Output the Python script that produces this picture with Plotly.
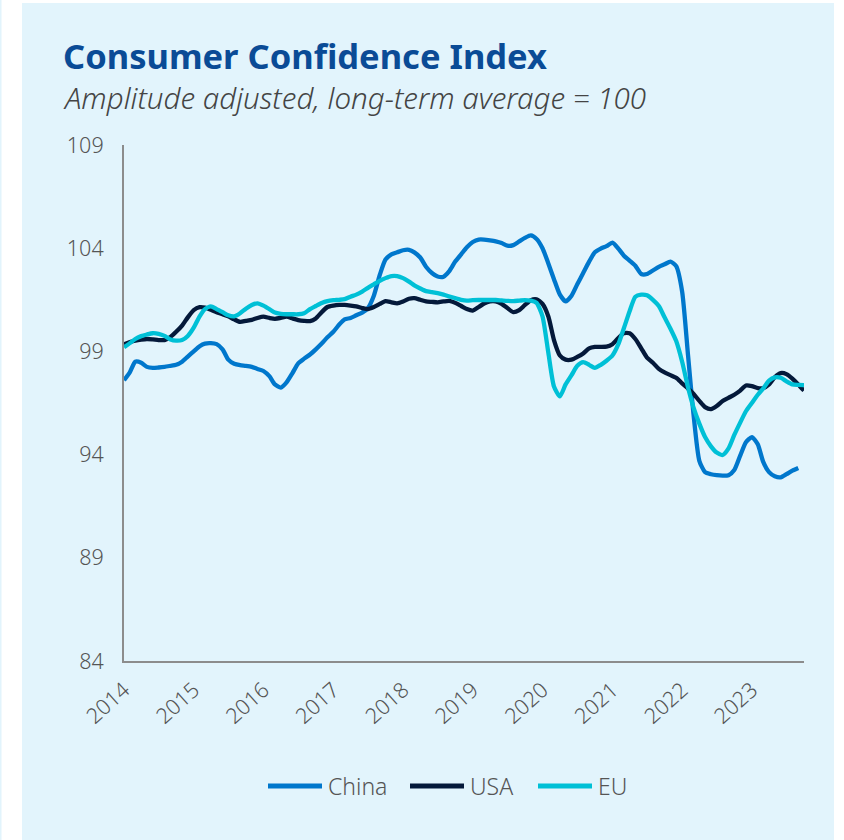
import pandas as pd
import plotly.graph_objects as go

# Monthly index values, amplitude adjusted (long-term average = 100)
months = pd.date_range("2014-01-01", "2023-10-01", freq="MS")

china = [
    97.6, 98.0, 98.5, 98.45, 98.25, 98.2, 98.22, 98.25, 98.3, 98.35, 98.5, 98.75,
    99.0, 99.25, 99.38, 99.4, 99.35, 99.1, 98.6, 98.4, 98.33, 98.3, 98.25, 98.15,
    98.05, 97.8, 97.4, 97.25, 97.5, 97.95, 98.42, 98.65, 98.85, 99.1, 99.38, 99.68,
    99.95, 100.3, 100.55, 100.62, 100.75, 100.88, 101.1, 101.7, 102.7, 103.45, 103.7, 103.8,
    103.9, 103.92, 103.8, 103.55, 103.1, 102.8, 102.63, 102.62, 102.9, 103.35, 103.7, 104.05,
    104.3, 104.42, 104.42, 104.38, 104.33, 104.25, 104.12, 104.15, 104.33, 104.5, 104.62, 104.45,
    104.0, 103.25, 102.5, 101.75, 101.42, 101.7, 102.25, 102.8, 103.35, 103.8, 103.98, 104.1,
    104.27, 103.98, 103.65, 103.4, 103.15, 102.75, 102.75, 102.92, 103.1, 103.22, 103.35, 103.13,
    101.9, 98.8, 96.0, 93.7, 93.15, 93.05, 93.0, 92.98, 93.0, 93.25, 93.95, 94.6,
    94.85, 94.5, 93.66, 93.15, 92.95, 92.9, 93.05, 93.22, 93.35,
]

usa = [
    99.35, 99.45, 99.52, 99.57, 99.6, 99.58, 99.55, 99.55, 99.7, 99.95, 100.25, 100.65,
    101.0, 101.14, 101.12, 101.02, 100.9, 100.8, 100.7, 100.55, 100.43, 100.48, 100.53, 100.62,
    100.68, 100.62, 100.58, 100.62, 100.68, 100.6, 100.52, 100.48, 100.47, 100.6, 100.9, 101.15,
    101.22, 101.25, 101.25, 101.22, 101.18, 101.1, 101.05, 101.15, 101.3, 101.43, 101.38, 101.33,
    101.42, 101.55, 101.58, 101.5, 101.42, 101.4, 101.38, 101.42, 101.45, 101.35, 101.2, 101.05,
    100.98, 101.15, 101.32, 101.42, 101.42, 101.3, 101.1, 100.9, 101.0, 101.25, 101.48, 101.52,
    101.3, 100.68, 99.55, 98.8, 98.6, 98.6, 98.73, 98.9, 99.15, 99.22, 99.22, 99.23,
    99.35, 99.65, 99.88, 99.88, 99.6, 99.15, 98.7, 98.45, 98.15, 97.98, 97.85, 97.72,
    97.45, 97.2, 96.95, 96.6, 96.3, 96.2, 96.35, 96.6, 96.75, 96.9, 97.1, 97.35,
    97.32, 97.22, 97.22, 97.4, 97.75, 97.95, 97.9, 97.68, 97.4, 97.1,
]

eu = [
    99.2, 99.4, 99.6, 99.74, 99.82, 99.88, 99.85, 99.75, 99.58, 99.52, 99.55, 99.75,
    100.15, 100.7, 101.05, 101.18, 101.05, 100.9, 100.75, 100.7, 100.85, 101.07, 101.25, 101.33,
    101.22, 101.05, 100.88, 100.82, 100.8, 100.8, 100.8, 100.85, 101.05, 101.2, 101.35, 101.44,
    101.48, 101.5, 101.53, 101.65, 101.75, 101.9, 102.08, 102.25, 102.42, 102.55, 102.65, 102.65,
    102.55, 102.38, 102.2, 102.05, 101.92, 101.87, 101.82, 101.75, 101.66, 101.58, 101.5, 101.46,
    101.48, 101.49, 101.49, 101.49, 101.49, 101.47, 101.45, 101.44, 101.46, 101.48, 101.46, 101.35,
    100.7, 98.9, 97.3, 96.82, 97.4, 97.85, 98.3, 98.48, 98.35, 98.2, 98.35, 98.55,
    98.8, 99.35, 100.1, 100.95, 101.65, 101.75, 101.72, 101.5, 101.2, 100.65, 100.1, 99.5,
    98.5, 97.25, 96.3, 95.5, 94.85, 94.4, 94.1, 93.98, 94.3, 94.95, 95.55, 96.1,
    96.5, 96.9, 97.2, 97.58, 97.74, 97.72, 97.55, 97.4, 97.38, 97.37,
]

series_names = ["China", "USA", "EU"]
series_colors = ["#0077CC", "#04193A", "#00C0D6"]

year_ticks = pd.date_range("2014-01-01", "2023-01-01", freq="YS")
year_labels = [str(d.year) for d in year_ticks]
y_ticks = [84, 89, 94, 99, 104, 109]

TEXT_FONT = "Noto Sans"
AXIS_GREY = "#8C8C8C"
LABEL_GREY = "#555555"
PANEL = "#E2F4FC"

fig = go.Figure()
for name, values, color in zip(series_names, [china, usa, eu], series_colors):
    fig.add_trace(go.Scatter(
        x=months[:len(values)], y=values, name=name, mode="lines",
        line=dict(color=color, width=4.3, shape="spline", smoothing=0.6),
        showlegend=False, hoverinfo="x+y+name",
    ))

# Light-blue card behind the whole chart
shapes = [
    dict(type="rect", xref="paper", yref="paper", layer="below",
         x0=(22 - 124) / 680, x1=(834 - 124) / 680,
         y0=(661 - 845) / 516, y1=(661 - 3) / 516,
         fillcolor=PANEL, line=dict(width=0)),
    dict(type="rect", xref="paper", yref="paper", layer="below",
         x0=(0 - 124) / 680, x1=(1.5 - 124) / 680,
         y0=(661 - 845) / 516, y1=(661 - 0) / 516,
         fillcolor=PANEL, line=dict(width=0)),
]

annotations = [
    dict(text="<b>Consumer Confidence Index</b>", xref="paper", yref="paper",
         x=(61 - 124) / 680, y=(661 - 56) / 516, xanchor="left", yanchor="middle",
         showarrow=False, font=dict(family=TEXT_FONT, size=34.5, color="#0A4B96")),
    dict(text="<i>Amplitude adjusted, long-term average = 100</i>", xref="paper", yref="paper",
         x=(61 - 124) / 680, y=(661 - 97) / 516, xanchor="left", yanchor="middle",
         showarrow=False, font=dict(family=TEXT_FONT, size=29.5, color="#444444", weight=300)),
]

# Legend drawn as wide line samples with labels underneath the chart
legend_pos = [(268, 322, 326), (410, 464, 468), (538, 592, 596)]
legend_y = (661 - 786) / 516
for (lx0, lx1, tx), name, color in zip(legend_pos, series_names, series_colors):
    shapes.append(dict(type="line", xref="paper", yref="paper",
                       x0=(lx0 - 124) / 680, x1=(lx1 - 124) / 680,
                       y0=legend_y, y1=legend_y, line=dict(color=color, width=5)))
    annotations.append(dict(text=name, xref="paper", yref="paper",
                            x=(tx - 124) / 680, y=legend_y, xanchor="left", yanchor="middle",
                            showarrow=False,
                            font=dict(family=TEXT_FONT, size=23, color=LABEL_GREY, weight=300)))

fig.update_layout(
    width=844, height=840,
    margin=dict(l=124, r=40, t=145, b=179),
    paper_bgcolor="white", plot_bgcolor="rgba(0,0,0,0)",
    font=dict(family=TEXT_FONT, color=LABEL_GREY),
    shapes=shapes, annotations=annotations,
    showlegend=False,
)
fig.update_xaxes(
    type="date", range=[months[0], months[-1]],
    tickvals=year_ticks, ticktext=year_labels, tickangle=-42,
    showline=True, linecolor=AXIS_GREY, linewidth=2, showgrid=False, zeroline=False,
    ticks="", ticklabelstandoff=6,
    tickfont=dict(family=TEXT_FONT, size=21.5, color=LABEL_GREY, weight=300),
)
fig.update_yaxes(
    range=[84, 109], tickvals=y_ticks,
    showline=True, linecolor=AXIS_GREY, linewidth=2, showgrid=False, zeroline=False,
    ticks="", ticklabelstandoff=14,
    tickfont=dict(family=TEXT_FONT, size=21.5, color=LABEL_GREY, weight=300),
)

fig.write_html("out.html")
